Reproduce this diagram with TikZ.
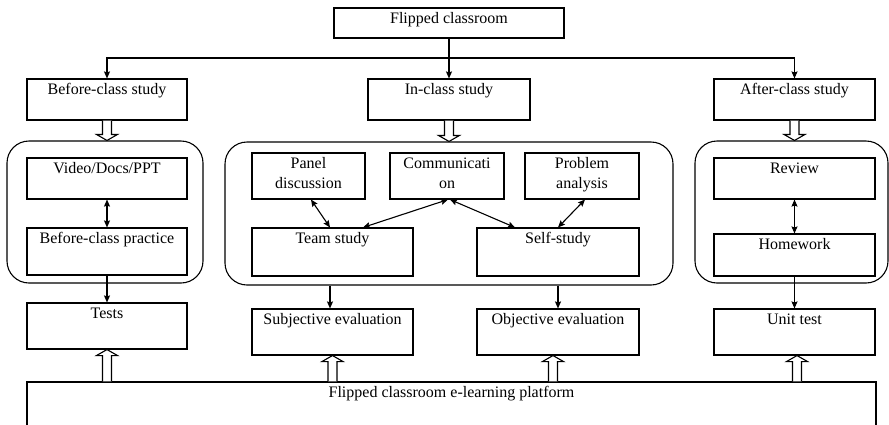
\documentclass[tikz,border=0pt]{standalone}
\usepackage{fontspec}
\setmainfont{Liberation Serif}
\usetikzlibrary{arrows.meta,calc}
\tikzset{
  box/.style={draw, line width=1.1pt, inner sep=0pt, minimum width=#1},
  box/.default=160pt,
  grp/.style={draw, line width=1.1pt, rounded corners=22pt},
  lbl/.style={anchor=north, yshift=-5pt, inner sep=0pt, align=center,
              font=\fontsize{16}{20}\selectfont},
  arr/.style={line width=1.1pt, -{Stealth[length=7pt,width=6pt,inset=1pt]}},
  darr/.style={line width=1.1pt, {Stealth[length=7pt,width=6pt,inset=1pt]}-{Stealth[length=7pt,width=6pt,inset=1pt]}},
  hol/.style={draw, line width=1.1pt, fill=white}
}
\newcommand\hollowdown[2]{\draw[hol] let \p1=(#1), \p2=(#2) in
  (\x1-4.5pt,\y1) -- (\x1-4.5pt,\y2+6pt) -- (\x1-10.5pt,\y2+6pt) -- (\x1,\y2)
  -- (\x1+10.5pt,\y2+6pt) -- (\x1+4.5pt,\y2+6pt) -- (\x1+4.5pt,\y1);}
\newcommand\hollowup[2]{\draw[hol] let \p1=(#1), \p2=(#2) in
  (\x1-4.5pt,\y1) -- (\x1-4.5pt,\y2-6pt) -- (\x1-10.5pt,\y2-6pt) -- (\x1,\y2)
  -- (\x1+10.5pt,\y2-6pt) -- (\x1+4.5pt,\y2-6pt) -- (\x1+4.5pt,\y1);}
\begin{document}
\begin{tikzpicture}[x=1pt,y=-1pt]
\useasboundingbox (0,0) rectangle (889,424);

% rounded groups
\node[grp, minimum width=196pt, minimum height=142pt] (lg) at (105,212) {};
\node[grp, minimum width=448pt, minimum height=143pt] (mg) at (449,213.5) {};
\node[grp, minimum width=193pt, minimum height=142pt] (rg) at (791.5,212) {};

% top
\node[box=230pt, minimum height=30pt, label={[lbl]north:Flipped classroom}] (top) at (449,23) {};
\coordinate (split) at (449,58);

% level 1
\node[box=160pt, minimum height=41pt, label={[lbl]north:Before-class study}] (bcs) at (107,99.5) {};
\node[box=162pt, minimum height=41pt, label={[lbl]north:In-class study}] (ics) at (449,99.5) {};
\node[box=161pt, minimum height=41pt, label={[lbl]north:After-class study}] (acs) at (794.5,99.5) {};

% left group
\node[box=160pt, minimum height=41pt, label={[lbl]north:Video/Docs/PPT}] (vid) at (107,178.5) {};
\node[box=160pt, minimum height=47pt, label={[lbl]north:Before-class practice}] (bcp) at (107,251.5) {};
\node[box=160pt, minimum height=46pt, label={[lbl]north:Tests}] (tests) at (107,326) {};

% middle group
\node[box=113pt, minimum height=46pt, label={[lbl]north:Panel\\discussion}] (panel) at (308.5,176) {};
\node[box=114pt, minimum height=46pt, label={[lbl]north:Communicati\\on}] (comm) at (447,176) {};
\node[box=114pt, minimum height=46pt, label={[lbl]north:Problem\\analysis}] (prob) at (582,176) {};
\node[box=161pt, minimum height=48pt, label={[lbl]north:Team study}] (team) at (332.5,252) {};
\node[box=162pt, minimum height=48pt, label={[lbl]north:Self-study}] (self) at (558,252) {};
\node[box=161pt, minimum height=46pt, label={[lbl]north:Subjective evaluation}] (subj) at (332.5,332) {};
\node[box=162pt, minimum height=46pt, label={[lbl]north:Objective evaluation}] (obj) at (558,332) {};

% right group
\node[box=161pt, minimum height=41pt, label={[lbl]north:Review}] (rev) at (794.5,178.5) {};
\node[box=161pt, minimum height=42pt, label={[lbl]north:Homework}] (hw) at (794.5,255) {};
\node[box=161pt, minimum height=46pt, label={[lbl]north:Unit test}] (unit) at (794.5,332) {};

% platform
\node[box=849pt, minimum height=60pt, label={[lbl]north:Flipped classroom e-learning platform}] (plat) at (451.5,412) {};

% top connectors
\draw[line width=1.1pt] (top) -- (split);
\draw[arr] (split) -- (ics);
\draw[arr] (split) -| (bcs);
\draw[arr] (split) -| (acs);

% hollow down arrows
\hollowdown{bcs.south}{lg.north -| bcs.south}
\hollowdown{ics.south}{mg.north -| ics.south}
\hollowdown{acs.south}{rg.north -| acs.south}

% inner arrows
\draw[darr] (vid) -- (bcp);
\draw[arr] (bcp) -- (tests);
\draw[darr] ($(panel.south)+(2.5,0)$) -- ($(team.north)+(-2.5,0)$);
\draw[darr] ($(team.north)+(30.5,0)$) -- ($(comm.south)+(1,0)$);
\draw[darr] ($(self.north)+(-43,0)$) -- ($(comm.south)+(3,0)$);
\draw[darr] (self.north) -- ($(prob.south)+(3,0)$);
\draw[arr] ($(mg.south -| subj.north)+(-2.5,0)$) -- ($(subj.north)+(-2.5,0)$);
\draw[arr] (mg.south -| obj.north) -- (obj.north);
\draw[darr] (rev) -- (hw);
\draw[arr] (hw) -- (unit);

% hollow up arrows
\hollowup{plat.north -| tests.south}{tests.south}
\hollowup{plat.north -| subj.south}{subj.south}
\hollowup{$(plat.north -| obj.south)+(-5,0)$}{$(obj.south)+(-5,0)$}
\hollowup{$(plat.north -| unit.south)+(2.5,0)$}{$(unit.south)+(2.5,0)$}
\end{tikzpicture}
\end{document}
